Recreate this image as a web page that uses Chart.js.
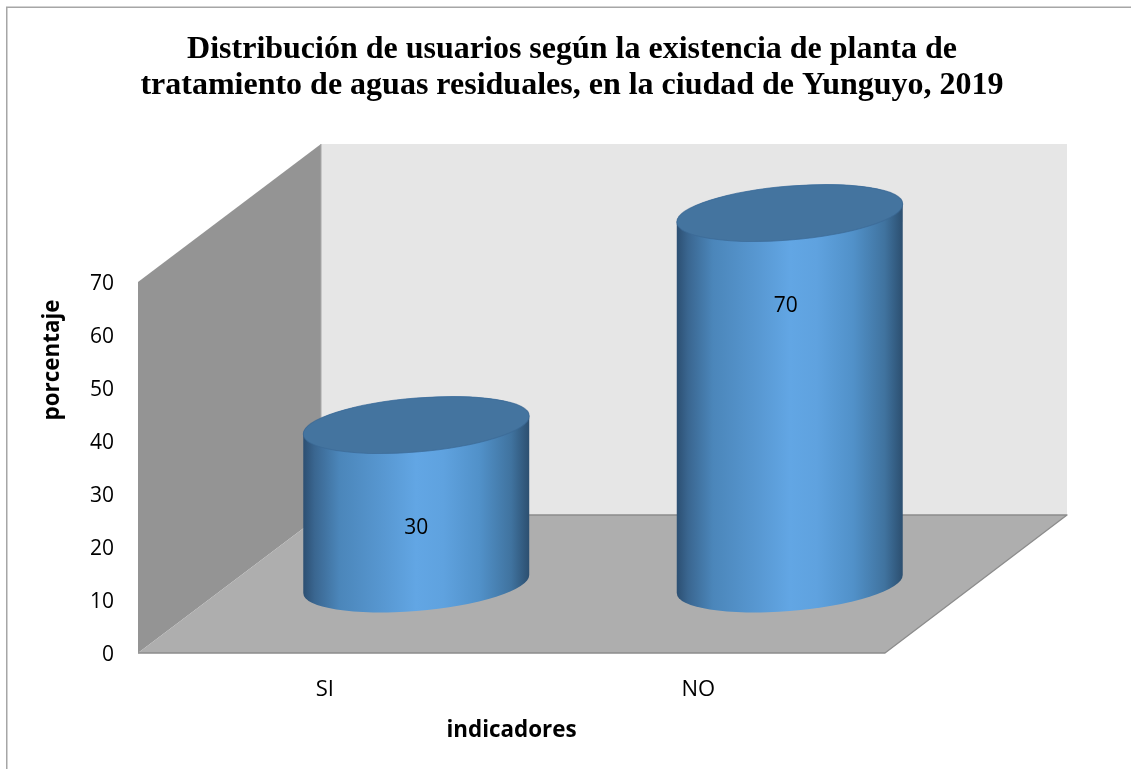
<!DOCTYPE html>
<html>
<head>
<meta charset="utf-8">
<style>html,body{margin:0;padding:0;background:#fff}canvas{display:block}</style>
<script src="https://cdn.jsdelivr.net/npm/chart.js@4/dist/chart.umd.js"></script>
</head>
<body>
<canvas id="c" width="1131" height="769"></canvas>
<script>
const titleLines = ['Distribución de usuarios según la existencia de planta de', 'tratamiento de aguas residuales, en la ciudad de Yunguyo, 2019'];
const categories = ['SI', 'NO'];
const values = [30, 70];
const yTicks = [0, 10, 20, 30, 40, 50, 60, 70];
const xTitle = 'indicadores';
const yTitle = 'porcentaje';

const DEPTH_X = 183, DEPTH_Y = 138;
const SHEAR = -0.08, ELL_B = 27;
const LABEL_OFFSET = [{dx: 0, dy: 24}, {dx: -4, dy: -92}];
const Y_TITLE_CENTER = 360;
const Y_LABEL_NUDGE = 2.5;
const SANS = '"Open Sans", Lato, sans-serif';

const scene = {
  id: 'scene',
  afterLayout(chart) {
    chart.titleBlock.left = 13;
    chart.titleBlock.right = 1131;
    const s = chart.scales.y;
    if (!s.__patched) {
      const origTitle = s.drawTitle.bind(s);
      const origLabels = s.drawLabels.bind(s);
      s.drawTitle = function () {
        const t = s.top, b = s.bottom, shift = Y_TITLE_CENTER - (t + b) / 2;
        s.top = t + shift; s.bottom = b + shift;
        origTitle();
        s.top = t; s.bottom = b;
      };
      s.drawLabels = function (area) {
        chart.ctx.save();
        chart.ctx.translate(0, Y_LABEL_NUDGE);
        origLabels(area);
        chart.ctx.restore();
      };
      s.__patched = true;
    }
  },
  beforeDraw(chart) {
    const {ctx, scales: {x, y}} = chart;
    const L = x.left, R = x.right, B = y.getPixelForValue(0), T = y.getPixelForValue(70);
    const backR = R + DEPTH_X - 1;
    const poly = (pts, fill) => {
      ctx.beginPath();
      pts.forEach((p, i) => i ? ctx.lineTo(p[0], p[1]) : ctx.moveTo(p[0], p[1]));
      ctx.closePath();
      ctx.fillStyle = fill; ctx.fill();
    };
    ctx.save();
    ctx.fillStyle = '#fff'; ctx.fillRect(0, 0, chart.width, chart.height);
    ctx.strokeStyle = '#a6a6a6'; ctx.lineWidth = 1.5;
    ctx.beginPath(); ctx.moveTo(6.75, 769); ctx.lineTo(6.75, 7.25); ctx.lineTo(1131, 7.25); ctx.stroke();
    poly([[L + DEPTH_X, T - DEPTH_Y], [backR, T - DEPTH_Y], [backR, B - DEPTH_Y], [L + DEPTH_X, B - DEPTH_Y]], '#e6e6e6');
    poly([[L, T], [L + DEPTH_X, T - DEPTH_Y], [L + DEPTH_X, B - DEPTH_Y], [L, B]], '#949494');
    ctx.strokeStyle = '#a8a8a8'; ctx.lineWidth = 1;
    ctx.beginPath(); ctx.moveTo(L + DEPTH_X, T - DEPTH_Y); ctx.lineTo(L + DEPTH_X, B - DEPTH_Y); ctx.stroke();
    poly([[L, B], [L + DEPTH_X, B - DEPTH_Y], [backR, B - DEPTH_Y], [R, B]], '#aeaeae');
    ctx.strokeStyle = '#8c8c8c'; ctx.lineWidth = 1.3; ctx.lineJoin = 'round';
    ctx.beginPath(); ctx.moveTo(L + DEPTH_X, B - DEPTH_Y); ctx.lineTo(backR, B - DEPTH_Y); ctx.lineTo(R, B); ctx.lineTo(L, B); ctx.stroke();
    ctx.restore();
  },
  beforeDatasetDraw(chart, args) {
    const {ctx} = chart;
    const meta = args.meta;
    ctx.save();
    ctx.translate(DEPTH_X / 2, -DEPTH_Y / 2);
    meta.data.forEach((bar, i) => {
      const cx = bar.x, a = bar.width / 2, top = bar.y, base = bar.base;
      const g = ctx.createLinearGradient(cx - a, 0, cx + a, 0);
      g.addColorStop(0, '#2c4f72');
      g.addColorStop(0.05, '#3a6690');
      g.addColorStop(0.16, '#4b86ba');
      g.addColorStop(0.36, '#5898d2');
      g.addColorStop(0.5, '#62a6e4');
      g.addColorStop(0.62, '#5fa2df');
      g.addColorStop(0.78, '#5191c9');
      g.addColorStop(0.92, '#40739f');
      g.addColorStop(1, '#2c4f70');
      ctx.save();
      ctx.transform(1, SHEAR, 0, 1, 0, -SHEAR * cx);
      ctx.beginPath();
      ctx.moveTo(cx - a, top);
      ctx.lineTo(cx - a, base);
      ctx.ellipse(cx, base, a, ELL_B, 0, Math.PI, 0, true);
      ctx.lineTo(cx + a, top);
      ctx.ellipse(cx, top, a, ELL_B, 0, 0, Math.PI, true);
      ctx.closePath();
      ctx.fillStyle = g; ctx.fill();
      ctx.beginPath();
      ctx.ellipse(cx, top, a, ELL_B, 0, 0, Math.PI * 2);
      ctx.fillStyle = '#44749f'; ctx.fill();
      ctx.strokeStyle = 'rgba(60,105,150,0.7)'; ctx.lineWidth = 1; ctx.stroke();
      ctx.restore();
      const mid = (top + base) / 2;
      ctx.fillStyle = '#000';
      ctx.font = '21px ' + SANS;
      ctx.textAlign = 'center'; ctx.textBaseline = 'middle';
      ctx.fillText(String(values[i]), cx + LABEL_OFFSET[i].dx, mid + LABEL_OFFSET[i].dy);
    });
    ctx.restore();
    return false;
  }
};

new Chart(document.getElementById('c'), {
  type: 'bar',
  data: {
    labels: categories,
    datasets: [{data: values, backgroundColor: '#5b9bd5', barPercentage: 0.605, categoryPercentage: 1}]
  },
  plugins: [scene],
  options: {
    responsive: false,
    animation: false,
    layout: {padding: {left: 8, top: 0, right: 246, bottom: 0}},
    plugins: {
      legend: {display: false},
      tooltip: {enabled: false},
      title: {
        display: true,
        text: titleLines,
        color: '#000',
        font: {family: '"Liberation Serif", serif', size: 32, weight: 'bold', lineHeight: 1.125},
        padding: {top: 32, bottom: 178}
      }
    },
    scales: {
      x: {
        grid: {display: false, drawTicks: false},
        border: {display: false},
        ticks: {color: '#000', font: {family: SANS, size: 22}, padding: 24, autoSkip: false, maxRotation: 0},
        title: {display: true, text: xTitle, color: '#000', font: {family: SANS, size: 22.4, weight: 'bold'}, padding: {top: 12, bottom: 25}},
        afterFit(s) { s.height = 116; }
      },
      y: {
        min: 0, max: 70,
        grid: {display: false, drawTicks: false},
        border: {display: false},
        afterBuildTicks(s) { s.ticks = yTicks.map(v => ({value: v})); },
        ticks: {color: '#000', font: {family: SANS, size: 21}, padding: 24},
        title: {display: true, text: yTitle, color: '#000', font: {family: SANS, size: 22.4, weight: 'bold'}, padding: {top: 31, bottom: 0}},
        afterFit(s) { s.width = 130; }
      }
    }
  }
});
</script>
</body>
</html>
